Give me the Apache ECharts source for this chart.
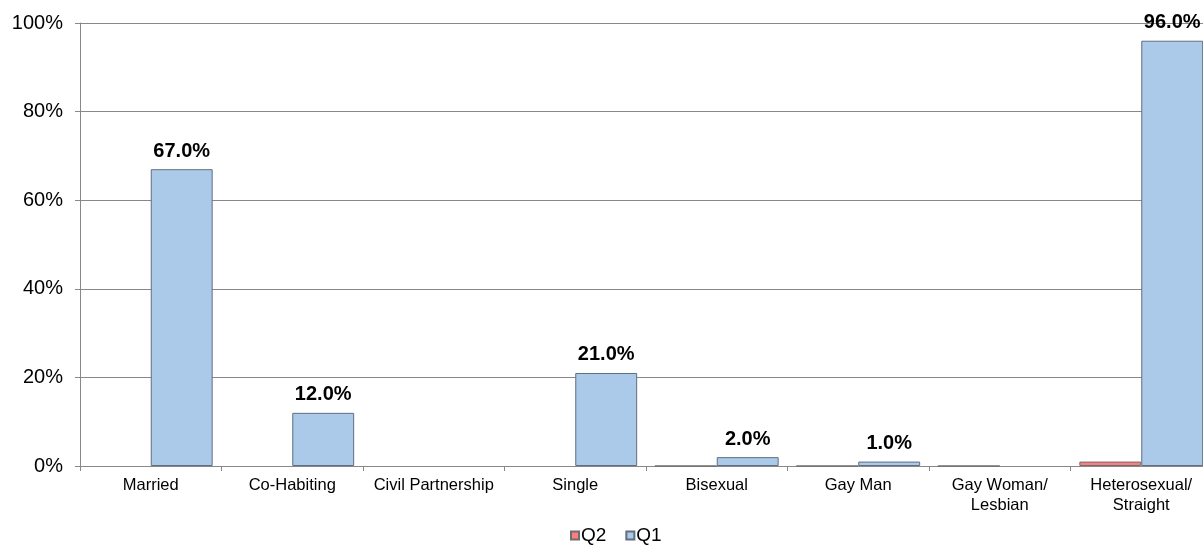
<!DOCTYPE html>
<html><head><meta charset="utf-8">
<script src="https://cdn.jsdelivr.net/npm/echarts@6/dist/echarts.min.js"></script>
<style>html,body{margin:0;padding:0;background:#fff;overflow:hidden;width:1203px;height:545px}#c{width:1212px;height:545px}</style>
</head><body><div id="c"></div>
<script>
const categories = ['Married','Co-Habiting','Civil Partnership','Single','Bisexual','Gay Man','Gay Woman/\nLesbian','Heterosexual/\nStraight'];
const q2Values = [null, null, null, null, 0, 0, 0, 1.0];
const q1Values = [67.0, 12.0, null, 21.0, 2.0, 1.0, null, 96.0];
const yTicks = [0, 20, 40, 60, 80, 100];

const chart = echarts.init(document.getElementById('c'));
const font = 'Liberation Sans, Arial, sans-serif';
chart.setOption({
  animation: false,
  textStyle: { fontFamily: font },
  grid: { left: 80, right: 0, top: 23, bottom: 79, containLabel: false },
  legend: {
    top: 526, left: 570, padding: 0,
    itemWidth: 8, itemHeight: 8, itemGap: 19,
    icon: 'rect',
    textStyle: { fontSize: 19, color: '#000', fontFamily: font, padding: [0,0,0,-3] },
    data: ['Q2', 'Q1']
  },
  xAxis: {
    type: 'category', data: categories,
    axisLine: { lineStyle: { color: '#888' } },
    axisTick: { show: true, length: 5, lineStyle: { color: '#888' } },
    axisLabel: { fontSize: 16.5, color: '#000', margin: 9, lineHeight: 20, interval: 0, fontFamily: font }
  },
  yAxis: {
    type: 'value', min: 0, max: 100, interval: 20,
    axisLine: { show: true, lineStyle: { color: '#888' } },
    axisTick: { show: true, length: 5, lineStyle: { color: '#888' } },
    splitLine: { lineStyle: { color: '#888' } },
    axisLabel: { fontSize: 20, color: '#000', margin: 17, fontFamily: font,
      formatter: v => yTicks.includes(v) ? v + '%' : '' }
  },
  series: [
    {
      name: 'Q2', type: 'bar', data: q2Values,
      barGap: '0%', barCategoryGap: '12.5%',
      itemStyle: { color: '#ff7c80', borderColor: '#6e6e6e', borderWidth: 1 }
    },
    {
      name: 'Q1', type: 'bar', data: q1Values,
      barGap: '0%', barCategoryGap: '12.5%',
      itemStyle: { color: '#abc9e8', borderColor: '#5f6f80', borderWidth: 1 },
      label: { show: true, position: 'top', distance: 8, fontWeight: 'bold', fontSize: 20, color: '#000', fontFamily: font,
        formatter: p => p.value.toFixed(1) + '%' }
    }
  ]
});
</script></body></html>
